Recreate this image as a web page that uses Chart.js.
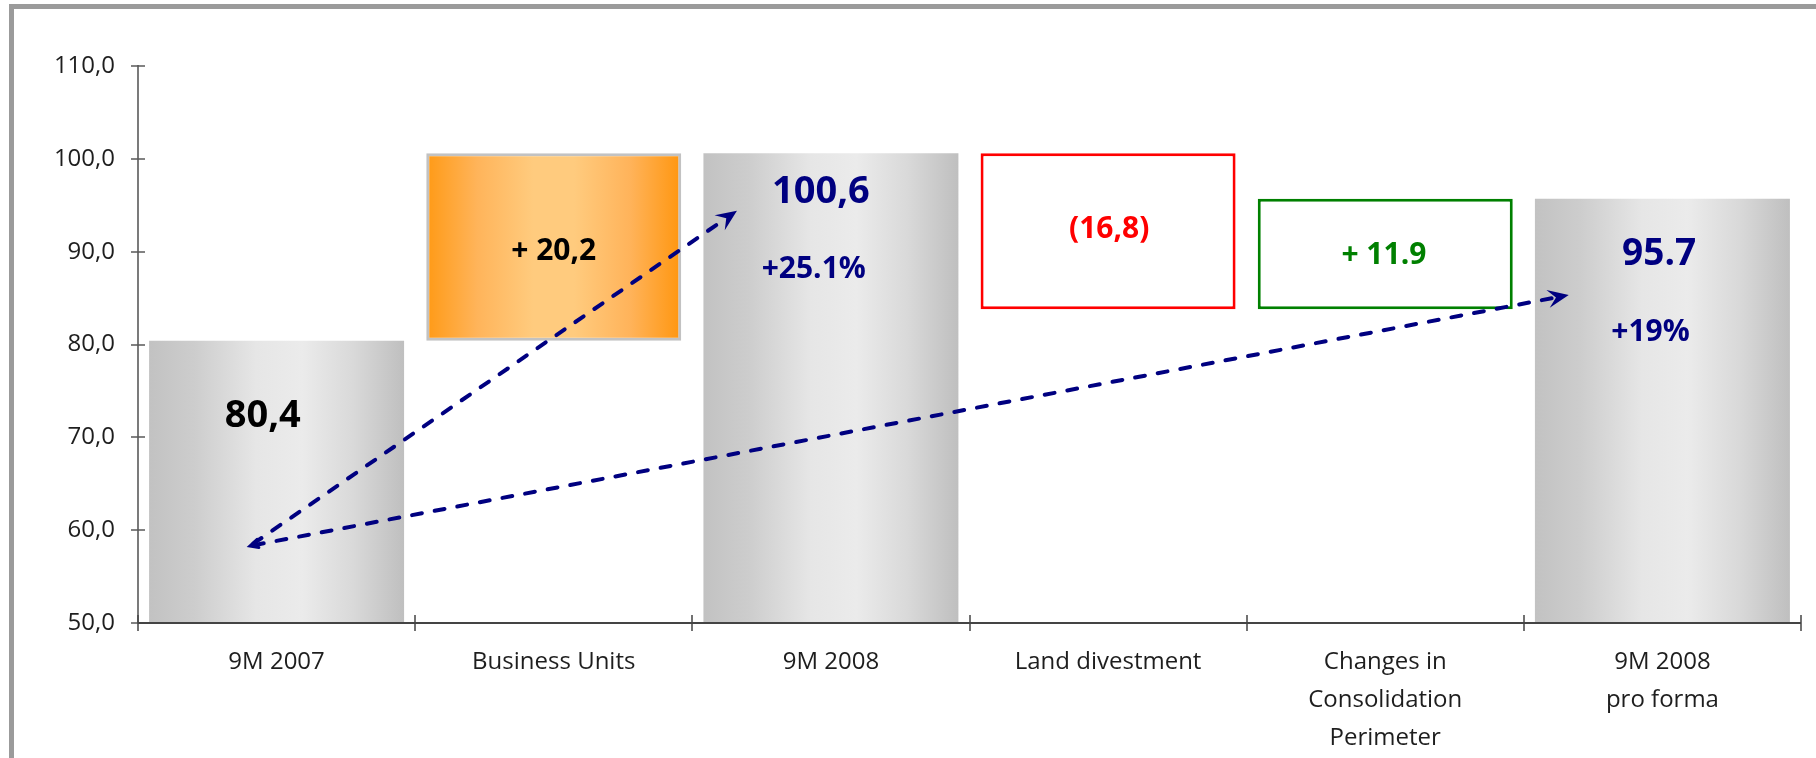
<!DOCTYPE html>
<html><head><meta charset="utf-8">
<script src="https://cdn.jsdelivr.net/npm/chart.js@4.4.1/dist/chart.umd.min.js"></script>
<style>
html,body{margin:0;padding:0;background:#fff;overflow:hidden;width:1816px;height:758px;}
#frame{position:absolute;left:9px;top:4px;width:1830px;height:800px;border-top:5px solid #9b9b9b;border-left:5px solid #9b9b9b;box-sizing:border-box;}
#c{position:absolute;left:0;top:0;}
</style></head><body>
<div id="frame"></div>
<canvas id="c" width="1816" height="758"></canvas>
<script>
// ---- data ----
const categories = ["9M 2007", "Business Units", "9M 2008", "Land divestment", ["Changes in", "Consolidation", "Perimeter"], ["9M 2008", "pro forma"]];
const stepValues = [80.4, 20.2, 100.6, -16.8, 11.9, 95.7];
const stepKinds = ["total", "change", "total", "change", "change", "total"];
const valueLabels = ["80,4", "+ 20,2", "100,6", "(16,8)", "+ 11.9", "95.7"];
const growthLabels = [null, null, "+25.1%", null, null, "+19%"];
const yTickValues = [50, 60, 70, 80, 90, 100, 110];
const yTickLabels = ["50,0", "60,0", "70,0", "80,0", "90,0", "100,0", "110,0"];
// growth arrows: [category position, value]
const arrowStart = [-0.096, 58.3];
const arrowEnds = [[1.661, 94.4], [4.662, 85.33]];

// ---- derived floating ranges ----
const Y_MIN = yTickValues[0], Y_MAX = yTickValues[yTickValues.length - 1];
let run = 0;
const ranges = stepValues.map((v, i) => {
  if (stepKinds[i] === "total") { run = v; return [Y_MIN, v]; }
  const from = run; run = +(run + v).toFixed(1); return [from, run];
});

// ---- styles ----
const BAR_PCT = 0.92;
const FONT = '"Open Sans", "DejaVu Sans", sans-serif';
const fillStyles = ["gray", "orange", "gray", "white", "white", "gray"];
const borderColors = ["rgba(0,0,0,0)", "#c2c2c2", "rgba(0,0,0,0)", "#ff0000", "#008000", "rgba(0,0,0,0)"];
const borderWidths = [0, 3, 0, 3, 3, 0];
const gradStops = {
  gray: [[0, "#c2c2c2"], [0.18, "#cdcdcd"], [0.42, "#e6e6e6"], [0.6, "#ebebeb"], [0.8, "#d9d9d9"], [1, "#bfbfbf"]],
  orange: [[0, "#ff9a16"], [0.2, "#ffb45a"], [0.42, "#ffcb7e"], [0.58, "#ffcb7e"], [0.8, "#ffb35a"], [1, "#ff960f"]]
};
// label layout: [category offset (fraction), value position, font px, color]
const labelLayout = [
  [-0.05, 72.57, 38, "#000000"],
  [0, 90.29, 30, "#000000"],
  [-0.036, 96.75, 38, "#000080"],
  [0.004, 92.66, 30, "#ff0000"],
  [-0.005, 89.8, 30, "#008000"],
  [-0.012, 90.0, 37, "#000080"]
];
const growthLayout = [null, null, [-0.062, 88.27, 30, "#000080"], null, null, [-0.043, 81.56, 30, "#000080"]];

function barFill(c) {
  const kind = fillStyles[c.dataIndex];
  if (kind === "white") return "#ffffff";
  const stops = gradStops[kind];
  const chart = c.chart, xs = chart.scales.x;
  if (!xs || !chart.chartArea) return stops[2][1];
  const step = xs.getPixelForValue(1) - xs.getPixelForValue(0);
  const cx = xs.getPixelForValue(c.dataIndex);
  const w = step * BAR_PCT;
  const g = chart.ctx.createLinearGradient(cx - w / 2, 0, cx + w / 2, 0);
  stops.forEach(s => g.addColorStop(s[0], s[1]));
  return g;
}

function catPixel(xs, v) {
  const p0 = xs.getPixelForValue(0), step = xs.getPixelForValue(1) - p0;
  return p0 + v * step;
}

const overlay = {
  id: "overlay",
  afterDatasetsDraw(chart) {
    const { ctx, scales: { x, y }, chartArea: a } = chart;
    const step = x.getPixelForValue(1) - x.getPixelForValue(0);
    ctx.save();
    // axes
    ctx.strokeStyle = "#5a5a5a";
    ctx.lineWidth = 1.6;
    ctx.beginPath();
    ctx.moveTo(a.left, y.getPixelForValue(Y_MAX) - 1); ctx.lineTo(a.left, a.bottom);
    yTickValues.forEach(v => { const py = Math.round(y.getPixelForValue(v)); ctx.moveTo(a.left - 7, py); ctx.lineTo(a.left + 7, py); });
    ctx.stroke();
    ctx.strokeStyle = "#444";
    ctx.lineWidth = 2;
    ctx.beginPath();
    ctx.moveTo(a.left, a.bottom); ctx.lineTo(a.right, a.bottom);
    ctx.stroke();
    ctx.lineWidth = 1.5;
    ctx.beginPath();
    for (let i = 0; i <= categories.length; i++) {
      const px = Math.round(x.getPixelForValue(0) - step / 2 + i * step);
      ctx.moveTo(px, a.bottom - 8); ctx.lineTo(px, a.bottom + 8);
    }
    ctx.stroke();

    // arrows
    const sx = catPixel(x, arrowStart[0]), sy = y.getPixelForValue(arrowStart[1]);
    arrowEnds.forEach((e, k) => {
      const ex = catPixel(x, e[0]), ey = y.getPixelForValue(e[1]);
      const ang = Math.atan2(ey - sy, ex - sx);
      const L = 21, W = 9, notch = 13;
      const bx = ex - Math.cos(ang) * notch, by = ey - Math.sin(ang) * notch;
      ctx.strokeStyle = "#000080";
      ctx.lineWidth = 4;
      ctx.lineCap = "round";
      ctx.setLineDash([10, 13]);
      ctx.beginPath(); ctx.moveTo(sx + Math.cos(ang) * 4, sy + Math.sin(ang) * 4); ctx.lineTo(bx, by); ctx.stroke();
      ctx.setLineDash([]);
      if (k === arrowEnds.length - 1) {
        // small open hook at the start point
        ctx.lineWidth = 3;
        ctx.beginPath();
        ctx.moveTo(sx + Math.cos(ang - 0.55) * 10, sy + Math.sin(ang - 0.55) * 10);
        ctx.lineTo(sx, sy);
        ctx.lineTo(sx + Math.cos(ang + 0.35) * 9, sy + Math.sin(ang + 0.35) * 9);
        ctx.stroke();
      }
      ctx.fillStyle = "#000080";
      ctx.beginPath();
      ctx.moveTo(ex, ey);
      ctx.lineTo(ex - Math.cos(ang) * L - Math.sin(ang) * W, ey - Math.sin(ang) * L + Math.cos(ang) * W);
      ctx.lineTo(bx, by);
      ctx.lineTo(ex - Math.cos(ang) * L + Math.sin(ang) * W, ey - Math.sin(ang) * L - Math.cos(ang) * W);
      ctx.closePath();
      ctx.fill();
    });

    // value labels
    ctx.textAlign = "center";
    ctx.textBaseline = "alphabetic";
    const drawLab = (txt, lay, i) => {
      if (!txt || !lay) return;
      const px = catPixel(x, i + lay[0]);
      const py = y.getPixelForValue(lay[1]);
      ctx.font = "bold " + lay[2] + "px " + FONT;
      ctx.fillStyle = lay[3];
      ctx.fillText(txt, px, py + lay[2] * 0.357);
    };
    valueLabels.forEach((t, i) => drawLab(t, labelLayout[i], i));
    growthLabels.forEach((t, i) => drawLab(t, growthLayout[i], i));
    ctx.restore();
  }
};

new Chart(document.getElementById("c"), {
  type: "bar",
  data: {
    labels: categories,
    datasets: [{
      data: ranges,
      backgroundColor: barFill,
      borderColor: borderColors,
      borderWidth: borderWidths,
      borderSkipped: false,
      barPercentage: BAR_PCT,
      categoryPercentage: 1
    }]
  },
  options: {
    responsive: false,
    animation: false,
    events: [],
    layout: { padding: { top: 66, right: 15, bottom: 0, left: 0 } },
    plugins: { legend: { display: false }, tooltip: { enabled: false } },
    scales: {
      x: {
        grid: { display: false, drawTicks: false },
        border: { display: false },
        ticks: { color: "#1e1e1e", font: { family: FONT, size: 24, lineHeight: 1.58 }, padding: 20, maxRotation: 0, autoSkip: false },
        afterFit: s => { s.height = 135; }
      },
      y: {
        min: Y_MIN, max: Y_MAX,
        grid: { display: false, drawTicks: false },
        border: { display: false },
        afterBuildTicks: s => { s.ticks = yTickValues.map(v => ({ value: v })); },
        ticks: { color: "#1e1e1e", font: { family: FONT, size: 24 }, padding: 23,
          callback: v => yTickLabels[yTickValues.indexOf(v)] },
        afterFit: s => { s.width = 138; }
      }
    }
  },
  plugins: [overlay]
});
</script>
</body></html>
